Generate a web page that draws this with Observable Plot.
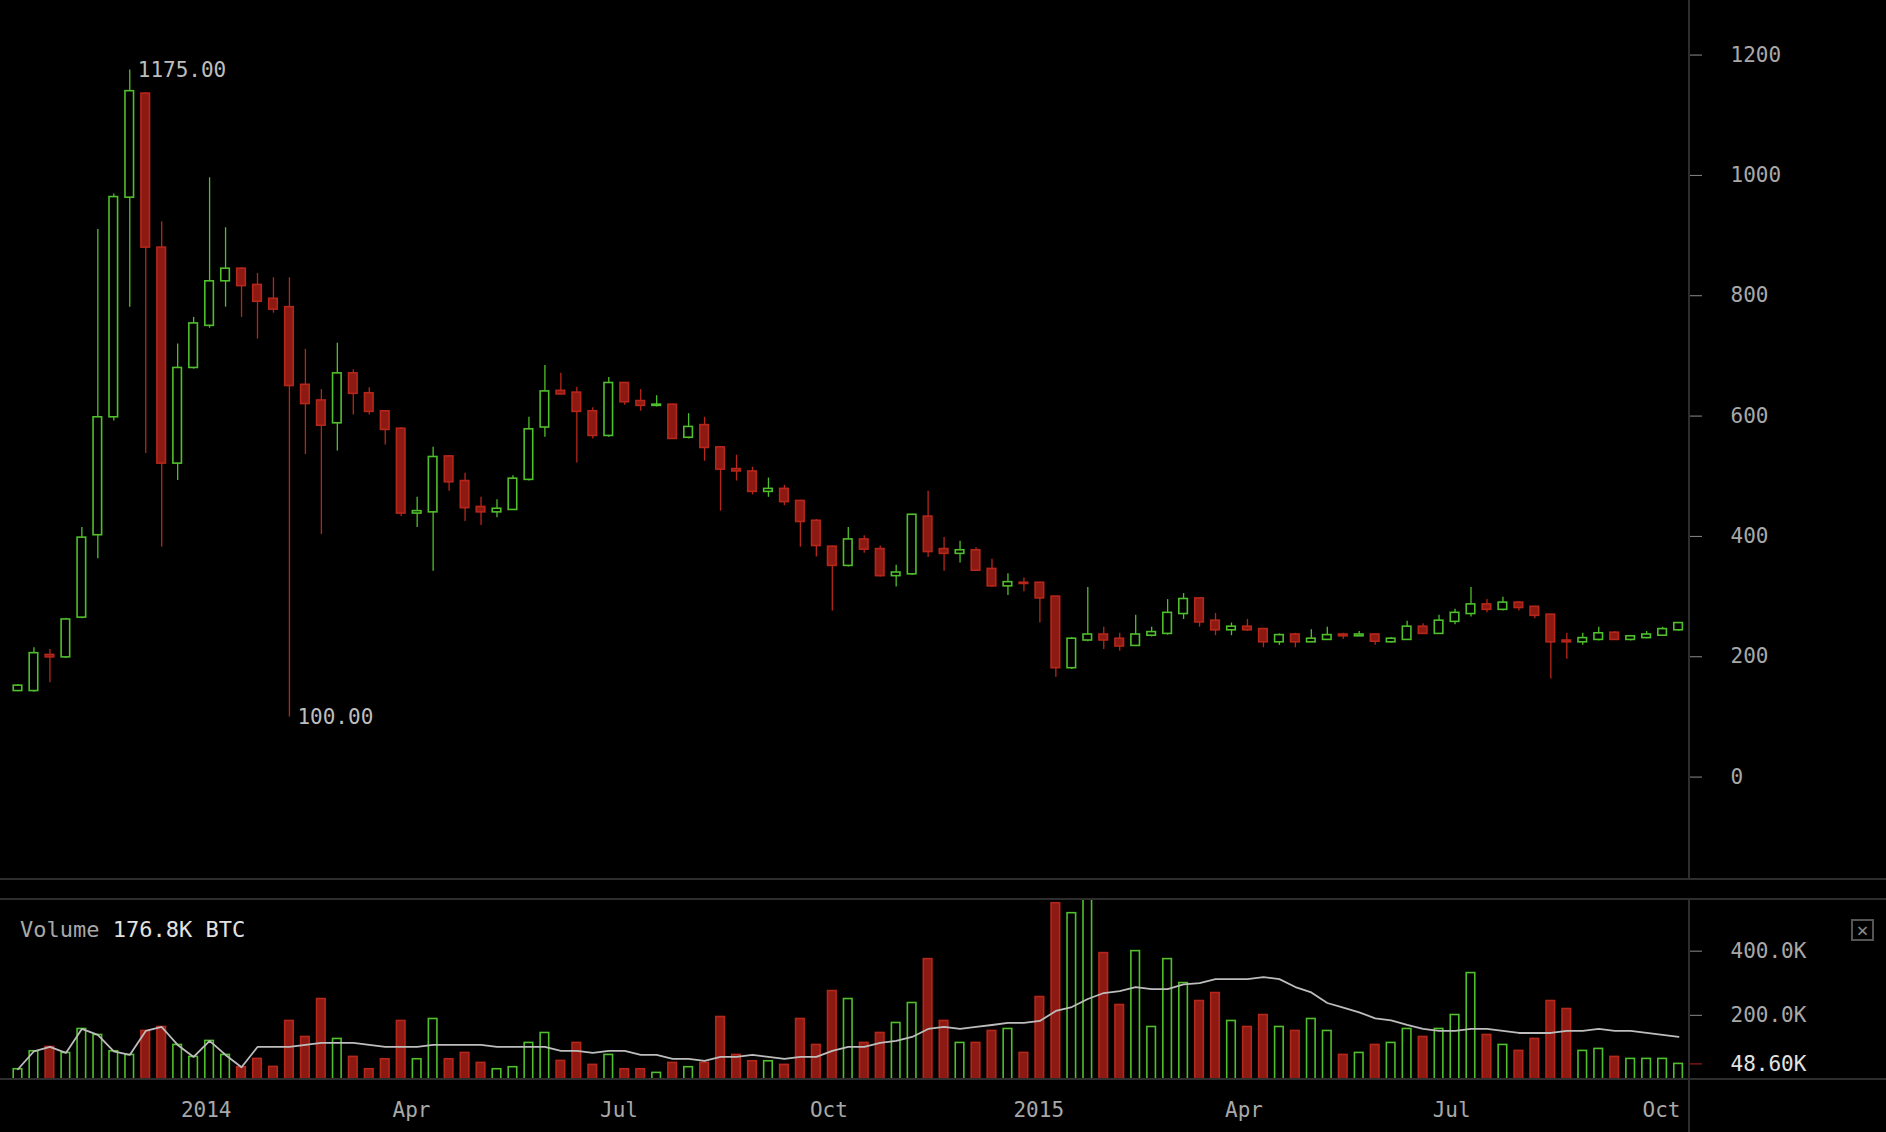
<!DOCTYPE html>
<html>
<head>
<meta charset="utf-8">
<script src="https://cdn.jsdelivr.net/npm/d3@7"></script>
<script src="https://cdn.jsdelivr.net/npm/@observablehq/plot@0.6"></script>
<style>
html, body { margin: 0; padding: 0; background: #000; }
#wrap { position: relative; width: 1886px; height: 1132px; background: #000; overflow: hidden; font-family: "DejaVu Sans Mono", monospace; }
#price { position: absolute; left: 0; top: 0; }
#vol { position: absolute; left: 0; top: 899px; }
.hl { position: absolute; left: 0; width: 1886px; height: 2px; background: #2e2e2e; }
.vl { position: absolute; left: 1688px; width: 2px; background: #2e2e2e; }
#legend { position: absolute; left: 20px; top: 917px; font-size: 22px; line-height: 26px; color: #a8a8a8; white-space: pre; }
#legend b { font-weight: normal; color: #e2e2e2; }
#closebox { position: absolute; left: 1851px; top: 919px; width: 19px; height: 18px; border: 2px solid #555; color: #888; font-size: 20px; line-height: 18px; text-align: center; }
</style>
</head>
<body>
<div id="wrap">
  <div id="price"></div>
  <div id="vol"></div>
  <div class="hl" style="top:878px"></div>
  <div class="hl" style="top:898px"></div>
  <div class="hl" style="top:1078px"></div>
  <div class="vl" style="top:0;height:879px"></div>
  <div class="vl" style="top:899px;height:233px"></div>
  <div id="legend">Volume <b>176.8K BTC</b></div>
  <div id="closebox">×</div>
</div>
<script>
// ---- data (weekly candles, starting Monday 2013-10-07) ----
const weekStart = "2013-10-07";
const opens = [143,143,203,199,265,402,598,963,1136,880,
  521,680,750,824,845,818,795,781,652,626,
  588,671,638,608,579,438,440,533,492,449,
  440,444,494,581,642,639,608,567,655,625,
  617,619,564,585,548,512,508,474,479,459,
  426,383,351,395,379,334,337,433,379,371,
  377,346,317,323,323,300,181,227,237,230,
  218,235,238,271,297,260,244,250,246,224,
  237,224,228,237,234,237,224,228,250,238,
  258,271,287,278,290,283,270,227,224,228,
  240,228,231,235,244];
const highs = [154,215,212,264,415,910,969,1175,1138,923,
  720,764,996,913,847,837,830,830,711,644,
  721,677,647,609,581,465,548,534,505,465,
  461,501,598,684,671,648,614,664,656,644,
  634,620,604,598,549,535,515,497,485,460,
  428,384,415,401,384,352,437,475,398,392,
  381,362,338,331,323,300,232,315,249,239,
  269,249,295,305,298,272,256,262,247,238,
  239,245,249,239,242,238,232,259,255,269,
  279,315,295,299,292,284,270,239,239,249,
  242,235,242,249,257];
const lows = [142,141,157,197,263,363,592,781,538,382,
  493,678,746,781,764,728,771,100,536,403,
  542,602,602,552,433,415,342,475,425,418,
  431,443,492,565,635,522,562,565,618,608,
  615,561,562,525,442,492,469,465,451,382,
  366,276,349,372,332,316,335,365,342,356,
  342,315,302,308,256,166,179,225,212,209,
  217,233,236,262,249,235,235,242,215,219,
  215,224,227,229,234,219,223,227,237,237,
  253,266,273,276,276,263,163,196,219,226,
  227,226,230,234,242];
const closes = [152,206,199,262,398,598,964,1140,880,521,
  680,754,824,845,816,790,777,650,620,584,
  671,637,607,577,438,442,532,490,447,440,
  446,496,578,641,636,607,567,655,623,617,
  619,562,582,547,511,508,474,479,457,424,
  384,351,395,378,334,340,436,374,371,377,
  343,317,324,321,297,181,230,237,227,217,
  237,241,273,296,257,244,250,244,224,236,
  224,230,236,234,237,225,230,250,238,260,
  273,287,278,290,281,268,224,224,231,239,
  228,234,237,246,256];
// volume in thousands of BTC
const volumesK = [32.0,88.0,101.5,82.8,157.5,138.8,88.0,76.6,151.3,163.7,
  107.7,70.4,120.2,76.6,38.3,64.2,39.3,182.4,132.6,250.8,
  126.4,70.4,32.0,63.1,182.4,63.1,188.6,63.1,82.8,51.7,
  32.0,38.3,114.0,145.0,57.9,114.0,45.5,76.6,32.0,32.0,
  20.6,51.7,38.3,51.7,194.8,76.6,56.9,56.9,45.5,188.6,
  107.7,275.7,250.8,114.0,145.0,176.2,238.4,375.2,182.4,114.0,
  114.0,151.3,157.5,82.8,257.0,549.4,518.3,561.8,393.9,232.2,
  400.1,163.7,375.2,300.6,244.6,269.5,182.4,163.7,201.0,163.7,
  151.3,188.6,151.3,76.6,82.8,107.7,114.0,157.5,132.6,157.5,
  201.0,331.7,138.8,107.7,89.1,126.4,244.6,219.7,89.1,95.3,
  70.4,64.2,64.2,64.2,48.6];
const volumeMA = [32.0,88.0,101.5,82.8,157.5,138.8,88.0,76.6,151.3,163.7,
  107.7,70.4,120.2,76.6,38.3,101.5,101.5,101.5,107.7,114.0,
  114.0,114.0,107.7,101.5,101.5,101.5,107.7,107.7,107.7,107.7,
  101.5,101.5,101.5,101.5,89.1,89.1,82.8,89.1,89.1,76.6,
  76.6,64.2,64.2,57.9,70.4,70.4,76.6,70.4,64.2,70.4,
  70.4,89.1,101.5,101.5,114.0,120.2,132.6,157.5,163.7,157.5,
  163.7,169.9,176.2,176.2,182.4,213.5,225.9,250.8,269.5,275.7,
  288.1,281.9,281.9,296.4,300.6,313.0,313.0,313.0,319.2,313.0,
  288.1,271.5,238.4,223.8,209.3,190.7,184.4,169.9,157.5,151.3,
  151.3,157.5,157.5,151.3,145.0,145.0,145.0,151.3,151.3,157.5,
  151.3,151.3,145.0,138.8,132.6];
const priceTicks = [0, 200, 400, 600, 800, 1000, 1200];
const volumeTicksK = [200, 400];
const timeTicks = ["2014-01-01","2014-04-01","2014-07-01","2014-10-01","2015-01-01","2015-04-01","2015-07-01","2015-10-01"];

// ---- styling ----
const green = "#4fbf2b";
const redStroke = "#b5261b";
const redFill = "#8c1a13";
const font = "DejaVu Sans Mono";

const start0 = new Date(weekStart + "T00:00:00Z");
const candles = opens.map((o, i) => {
  const start = d3.utcMonday.offset(start0, i);
  return {
    start,
    end: d3.utcMonday.offset(start, 1),
    mid: d3.utcHour.offset(start, 84),
    open: o, high: highs[i], low: lows[i], close: closes[i],
    vol: volumesK[i], ma: volumeMA[i],
    up: closes[i] >= o
  };
});

const xDomain = [new Date("2013-10-02T20:00:00Z"), new Date("2015-10-13T07:00:00Z")];

const hi = d3.greatest(candles, d => d.high);
const lo = d3.least(candles, d => d.low);
const extremes = [{x: hi.mid, y: hi.high}, {x: lo.mid, y: lo.low}];

const priceChart = Plot.plot({
  width: 1886, height: 879,
  marginLeft: 0, marginRight: 197, marginTop: 0, marginBottom: 0,
  style: {background: "#000", color: "#aaa", fontFamily: font},
  x: {type: "utc", domain: xDomain, axis: null},
  y: {domain: [-170.2, 1290.7]},
  color: {type: "identity"},
  marks: [
    Plot.axisY(priceTicks, {anchor: "right", tickSize: 12, tickPadding: 29, tickFormat: d => String(d), stroke: "#8a8a8a", fill: "#a8a8a8", fontSize: 21, label: null}),
    Plot.ruleX(candles, {x: "mid", y1: "low", y2: "high", stroke: d => d.up ? green : redStroke, strokeWidth: 1.3}),
    Plot.rect(candles, {x1: "start", x2: "end", y1: "open", y2: "close", insetLeft: 3.7, insetRight: 3.7,
      fill: d => d.up ? "#000" : redFill, stroke: d => d.up ? green : redStroke, strokeWidth: 1.6}),
    Plot.text(extremes, {x: "x", y: "y", text: d => d.y.toFixed(2), dx: 8, textAnchor: "start", fill: "#bdbdbd", fontSize: 21})
  ]
});
document.getElementById("price").appendChild(priceChart);

const lastVol = volumesK[volumesK.length - 1];
const volChart = Plot.plot({
  width: 1886, height: 233,
  marginLeft: 0, marginRight: 197, marginTop: 0, marginBottom: 53,
  style: {background: "#000", color: "#aaa", fontFamily: font},
  x: {type: "utc", domain: xDomain},
  y: {domain: [0, 561]},
  color: {type: "identity"},
  marks: [
    Plot.axisY(volumeTicksK, {anchor: "right", tickSize: 12, tickPadding: 29, tickFormat: d => d.toFixed(1) + "K", stroke: "#8a8a8a", fill: "#a8a8a8", fontSize: 21, label: null}),
    Plot.axisY([lastVol], {anchor: "right", tickSize: 12, tickPadding: 29, tickFormat: d => d.toFixed(2) + "K", stroke: redStroke, fill: "#e2e2e2", fontSize: 21, label: null}),
    Plot.axisX(timeTicks.map(s => new Date(s + "T00:00:00Z")), {anchor: "bottom", tickSize: 0, tickPadding: 23,
      tickFormat: d => d.getUTCMonth() === 0 ? String(d.getUTCFullYear()) : d3.utcFormat("%b")(d),
      fill: "#a8a8a8", fontSize: 21, label: null}),
    Plot.rect(candles, {x1: "start", x2: "end", y1: 0, y2: "vol", insetLeft: 3.7, insetRight: 3.7,
      fill: d => d.up ? "#000" : redFill, stroke: d => d.up ? green : redStroke, strokeWidth: 1.6}),
    Plot.line(candles, {x: "mid", y: "ma", stroke: "#bdbdbd", strokeWidth: 1.8})
  ]
});
document.getElementById("vol").appendChild(volChart);
</script>
</body>
</html>
